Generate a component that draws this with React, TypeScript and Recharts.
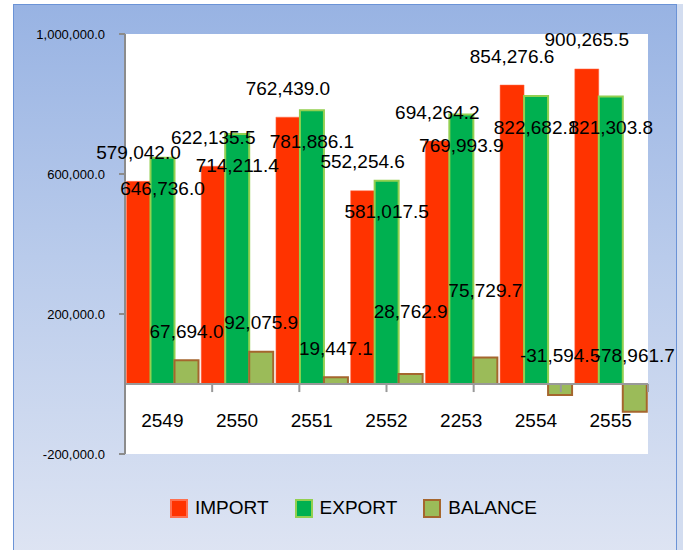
import React from 'react';
import { BarChart, Bar, XAxis, YAxis, ReferenceLine, Legend, LabelList } from 'recharts';

const years = ['2549', '2550', '2551', '2552', '2253', '2554', '2555'];
const importValues = [579042.0, 622135.5, 762439.0, 552254.6, 694264.2, 854276.6, 900265.5];
const exportValues = [646736.0, 714211.4, 781886.1, 581017.5, 769993.9, 822682.1, 821303.8];
const balanceValues = [67694.0, 92075.9, 19447.1, 28762.9, 75729.7, -31594.5, -78961.7];
const yTicks = [-200000, 200000, 600000, 1000000];
const categoryEdges = [1, 2, 3, 4, 5, 6, 7];
const seriesOrder = ['import', 'export', 'balance'];

// a couple of balance labels were dragged higher in the original
const balanceLabelLift = [0, 0, 0, 33, 38, 0, 0];

const data = years.map((year, i) => ({
  year,
  import: importValues[i],
  export: exportValues[i],
  balance: balanceValues[i],
}));

const FONT = '"Liberation Sans", Arial, sans-serif';

const seriesStyle: Record<string, { fill: string; stroke: string }> = {
  import: { fill: '#ff3300', stroke: '#ff7050' },
  export: { fill: '#00b050', stroke: '#92d050' },
  balance: { fill: '#9bbb59', stroke: '#a5662e' },
};

const fmt = (v: number) =>
  v.toLocaleString('en-US', { minimumFractionDigits: 1, maximumFractionDigits: 1 });

const makeLabel = (shift: (i: number) => number) => (props: any) => {
  const { x, y, width, height, value, index } = props;
  const top = Math.min(Number(y), Number(y) + Number(height));
  return (
    <text
      x={Number(x) + Number(width) / 2}
      y={top + shift(index)}
      textAnchor="middle"
      dominantBaseline="central"
      fontFamily={FONT}
      fontSize={19}
      fill="#000"
    >
      {fmt(Number(value))}
    </text>
  );
};

const YearTick = (p: any) => (
  <text
    x={p.x}
    y={p.y - 34}
    textAnchor="middle"
    dominantBaseline="central"
    fontFamily={FONT}
    fontSize={19}
    fill="#000"
  >
    {p.payload.value}
  </text>
);

const LegendContent = (props: any) => {
  const items = [...(props.payload || [])].sort(
    (a: any, b: any) => seriesOrder.indexOf(a.dataKey) - seriesOrder.indexOf(b.dataKey)
  );
  return (
    <div
      style={{
        display: 'flex',
        justifyContent: 'center',
        alignItems: 'center',
        height: 30,
        fontFamily: FONT,
        fontSize: 19,
        color: '#000',
      }}
    >
      {items.map((item: any) => {
        const s = seriesStyle[item.dataKey];
        return (
          <div key={item.dataKey} style={{ display: 'flex', alignItems: 'center', margin: '0 13px' }}>
            <span
              style={{
                display: 'inline-block',
                width: 14,
                height: 15,
                background: s.fill,
                border: `2px solid ${s.stroke}`,
                marginRight: 7,
              }}
            />
            <span>{item.value}</span>
          </div>
        );
      })}
    </div>
  );
};

export default function App() {
  return (
    <div style={{ position: 'absolute', left: 0, top: 0, width: 683, height: 550, overflow: 'hidden', background: '#fff' }}>
      <div
        style={{
          position: 'absolute',
          left: 13,
          top: 4,
          width: 662,
          height: 560,
          border: '1.5px solid #6b93d6',
          background: 'linear-gradient(to bottom, #98b3e3 0%, #b9cbeb 45%, #dfe5f3 100%)',
          boxShadow: '6px 0 0 #d3ddf0',
        }}
      />
      <div style={{ position: 'absolute', left: 0, top: 0 }}>
        <BarChart
          width={683}
          height={550}
          data={data}
          margin={{ top: 34, right: 35, left: 0, bottom: 27 }}
          barCategoryGap={1.5}
          barGap={0}
        >
          <rect x={125} y={34} width={523} height={420} fill="#fff" />
          <XAxis
            dataKey="year"
            axisLine={false}
            tickLine={false}
            tickSize={0}
            tickMargin={0}
            height={39}
            tick={<YearTick />}
            interval={0}
          />
          <XAxis xAxisId="edge" type="number" domain={[0, 7]} hide />
          <YAxis
            width={125}
            domain={[-200000, 1000000]}
            ticks={yTicks}
            interval={0}
            tickFormatter={fmt}
            axisLine={{ stroke: '#8c8c8c', strokeWidth: 2 }}
            tickLine={{ stroke: '#8c8c8c', strokeWidth: 2 }}
            tickSize={6}
            tickMargin={14}
            tick={{ fill: '#000', fontSize: 13, fontFamily: FONT }}
          />
          <Legend verticalAlign="bottom" content={<LegendContent />} wrapperStyle={{ left: 12, width: 683 }} />
          <Bar dataKey="import" name="IMPORT" fill={seriesStyle.import.fill} stroke={seriesStyle.import.stroke} strokeWidth={0.5} isAnimationActive={false}>
            <LabelList dataKey="import" content={makeLabel(() => -29)} />
          </Bar>
          <Bar dataKey="export" name="EXPORT" fill={seriesStyle.export.fill} stroke={seriesStyle.export.stroke} strokeWidth={2} isAnimationActive={false}>
            <LabelList dataKey="export" content={makeLabel(() => 31)} />
          </Bar>
          <Bar dataKey="balance" name="BALANCE" fill={seriesStyle.balance.fill} stroke={seriesStyle.balance.stroke} strokeWidth={2} isAnimationActive={false}>
            <LabelList dataKey="balance" content={makeLabel((i) => -29 - balanceLabelLift[i])} />
          </Bar>
          <ReferenceLine y={0} stroke="#999" strokeWidth={2} />
          {categoryEdges.map((k) => (
            <ReferenceLine
              key={k}
              xAxisId="edge"
              segment={[{ x: k, y: 0 }, { x: k, y: -23000 }]}
              stroke="#999"
              strokeWidth={2}
            />
          ))}
        </BarChart>
      </div>
    </div>
  );
}
